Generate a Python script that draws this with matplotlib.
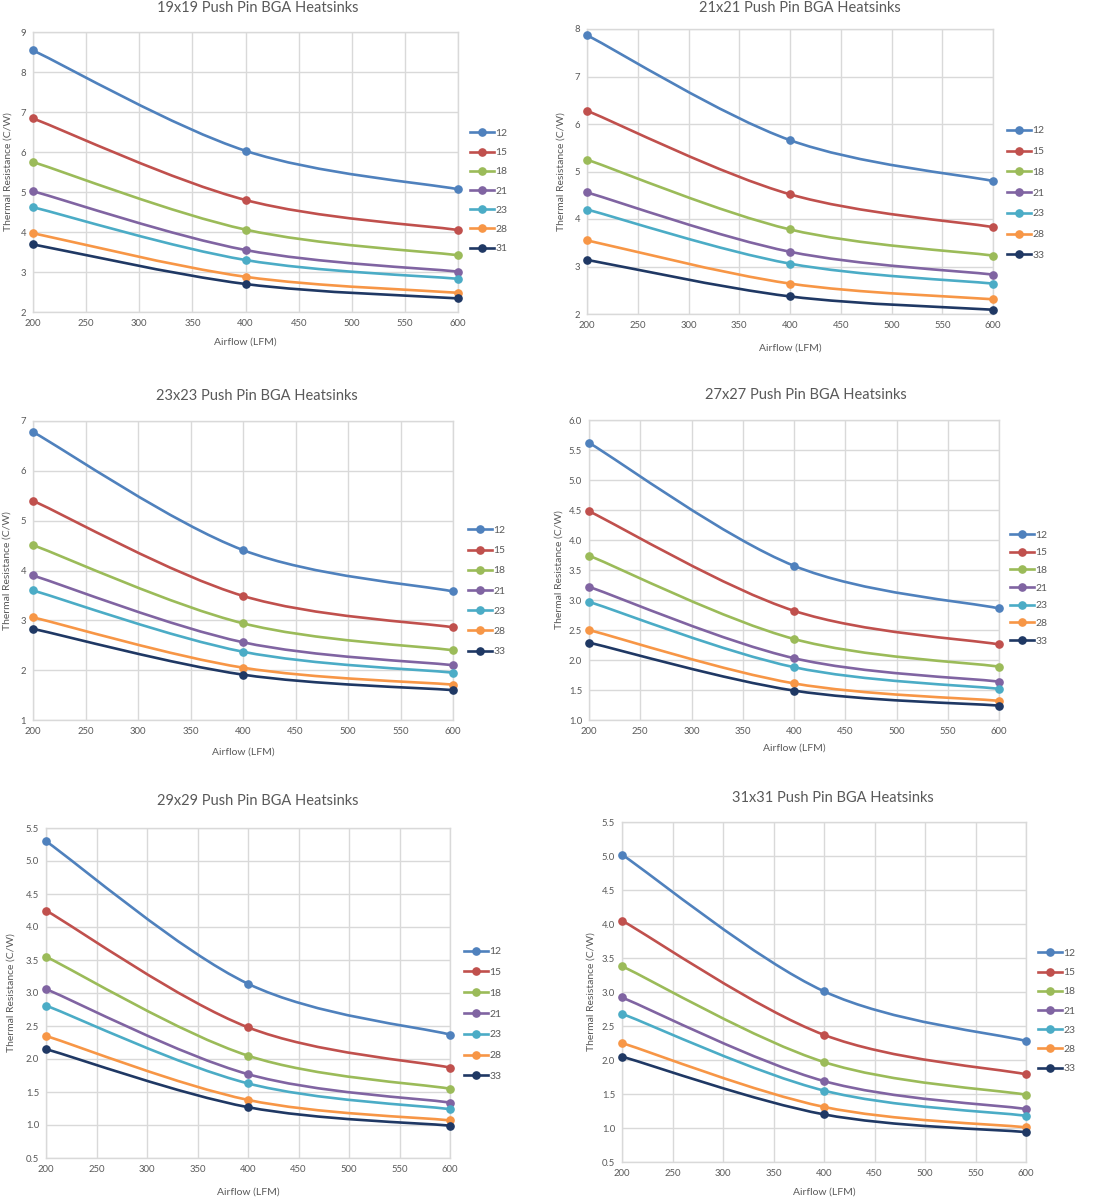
import numpy as np
import matplotlib
matplotlib.use("Agg")
import matplotlib.pyplot as plt
from matplotlib.path import Path
from matplotlib.patches import PathPatch
from matplotlib.lines import Line2D
from matplotlib.ticker import FormatStrFormatter

# ---------------- data ----------------
airflow = [200, 400, 600]
xticks = [200, 250, 300, 350, 400, 450, 500, 550, 600]

titles = ["19x19 Push Pin BGA Heatsinks", "21x21 Push Pin BGA Heatsinks",
          "23x23 Push Pin BGA Heatsinks", "27x27 Push Pin BGA Heatsinks",
          "29x29 Push Pin BGA Heatsinks", "31x31 Push Pin BGA Heatsinks"]

labels_19 = ["12", "15", "18", "21", "23", "28", "31"]
labels_other = ["12", "15", "18", "21", "23", "28", "33"]

vals_19x19 = [[8.54, 6.03, 5.07], [6.84, 4.80, 4.05], [5.75, 4.06, 3.42],
              [5.02, 3.55, 3.01], [4.62, 3.30, 2.83], [3.97, 2.88, 2.48],
              [3.69, 2.70, 2.34]]
vals_21x21 = [[7.87, 5.66, 4.80], [6.28, 4.52, 3.83], [5.25, 3.78, 3.23],
              [4.56, 3.31, 2.83], [4.20, 3.06, 2.64], [3.55, 2.64, 2.31],
              [3.14, 2.37, 2.09]]
vals_23x23 = [[6.78, 4.41, 3.58], [5.40, 3.49, 2.86], [4.51, 2.94, 2.40],
              [3.90, 2.56, 2.10], [3.60, 2.37, 1.95], [3.06, 2.05, 1.71],
              [2.83, 1.91, 1.60]]
vals_27x27 = [[5.62, 3.57, 2.86], [4.48, 2.82, 2.26], [3.74, 2.35, 1.89],
              [3.22, 2.03, 1.64], [2.97, 1.88, 1.52], [2.50, 1.61, 1.32],
              [2.29, 1.49, 1.24]]
vals_29x29 = [[5.30, 3.14, 2.37], [4.25, 2.48, 1.87], [3.55, 2.05, 1.55],
              [3.06, 1.77, 1.34], [2.81, 1.63, 1.24], [2.35, 1.38, 1.07],
              [2.15, 1.27, 0.99]]
vals_31x31 = [[5.02, 3.01, 2.28], [4.05, 2.37, 1.79], [3.38, 1.97, 1.49],
              [2.92, 1.69, 1.28], [2.68, 1.55, 1.18], [2.25, 1.31, 1.01],
              [2.05, 1.20, 0.94]]

colors = ["#4F81BD", "#C0504D", "#9BBB59", "#8064A2", "#4BACC6", "#F79646", "#1F3864"]

TXT = "#595959"
GRID = "#D9D9D9"
FONT = "Lato"

W, H = 1115, 1200
fig = plt.figure(figsize=(W / 100, H / 100), dpi=100)
fig.patch.set_facecolor("white")

# panel layout in pixels: left, right, top, bottom, ylim, ystep, fmt, title center, ylabel x, xlabel y, legend (x, y_center)
panels = [
    dict(l=33, r=458, t=32, b=312, ylim=(2, 9), step=1, fmt="%d", tx=258, ty=8, ylx=8, xly=342, lgx=470, lgy=191, lsp=0.95),
    dict(l=587, r=993, t=29, b=314, ylim=(2, 8), step=1, fmt="%d", tx=800, ty=8, ylx=561, xly=348, lgx=1007, lgy=193, lsp=1.1),
    dict(l=33, r=453, t=421, b=720, ylim=(1, 7), step=1, fmt="%d", tx=257, ty=396, ylx=7, xly=752, lgx=468, lgy=591, lsp=1.05),
    dict(l=589, r=999, t=420, b=720, ylim=(1, 6), step=0.5, fmt="%.1f", tx=806, ty=395, ylx=559, xly=748, lgx=1010, lgy=588, lsp=0.8),
    dict(l=46, r=450, t=828, b=1158, ylim=(0.5, 5.5), step=0.5, fmt="%.1f", tx=258, ty=801, ylx=11, xly=1192, lgx=464, lgy=1014, lsp=1.1),
    dict(l=622, r=1026, t=822, b=1162, ylim=(0.5, 5.5), step=0.5, fmt="%.1f", tx=833, ty=798, ylx=591, xly=1192, lgx=1038, lgy=1011, lsp=0.95),
]
all_vals = [vals_19x19, vals_21x21, vals_23x23, vals_27x27, vals_29x29, vals_31x31]
all_labels = [labels_19] + [labels_other] * 5


def smooth_patch(xs, ys, color):
    pts = np.column_stack([xs, ys]).astype(float)
    n = len(pts)
    verts = [pts[0]]
    codes = [Path.MOVETO]
    for i in range(n - 1):
        p0 = pts[i - 1] if i > 0 else pts[i]
        p1 = pts[i]
        p2 = pts[i + 1]
        p3 = pts[i + 2] if i + 2 < n else pts[i + 1]
        c1 = p1 + (p2 - p0) / 6.0
        c2 = p2 - (p3 - p1) / 6.0
        verts += [c1, c2, p2]
        codes += [Path.CURVE4] * 3
    return PathPatch(Path(verts, codes), facecolor="none", edgecolor=color,
                     lw=1.9, capstyle="round", joinstyle="round", zorder=3)


for p, vals, labs, title in zip(panels, all_vals, all_labels, titles):
    ax = fig.add_axes([p["l"] / W, 1 - p["b"] / H, (p["r"] - p["l"]) / W, (p["b"] - p["t"]) / H])
    ax.set_xlim(200, 600)
    ax.set_ylim(*p["ylim"])
    ax.set_xticks(xticks)
    ax.set_yticks(np.arange(p["ylim"][0], p["ylim"][1] + 1e-9, p["step"]))
    ax.yaxis.set_major_formatter(FormatStrFormatter(p["fmt"]))
    ax.grid(True, color=GRID, lw=1.0, zorder=0)
    ax.set_axisbelow(True)
    for s in ax.spines.values():
        s.set_color(GRID)
        s.set_linewidth(1.0)
    ax.tick_params(length=0, labelsize=6.8, labelcolor=TXT, pad=5)
    for lab in ax.get_xticklabels() + ax.get_yticklabels():
        lab.set_fontfamily(FONT)

    handles = []
    for v, lab, c in zip(vals, labs, colors):
        ax.add_patch(smooth_patch(airflow, v, c))
        ax.plot(airflow, v, linestyle="none", marker="o", markersize=5.2,
                color=c, zorder=4, clip_on=False)
        handles.append(Line2D([0], [0], color=c, lw=1.9, marker="o", markersize=5.2))

    fig.text(p["tx"] / W, 1 - p["ty"] / H, title, ha="center", va="center",
             fontsize=10.5, color=TXT, family=FONT)
    ax.set_xlabel("Airflow (LFM)", fontsize=7.5, color=TXT, family=FONT)
    ax.xaxis.set_label_coords((p["r"] + p["l"]) / 2 / W, 1 - p["xly"] / H, transform=fig.transFigure)
    ax.xaxis.label.set_va("center")
    ax.set_ylabel("Thermal Resistance (C/W)", fontsize=7.5, color=TXT, family=FONT)
    ax.yaxis.set_label_coords(p["ylx"] / W, 1 - (p["t"] + p["b"]) / 2 / H, transform=fig.transFigure)
    ax.yaxis.label.set_va("center")

    leg = fig.legend(handles=handles, labels=labs, loc="center left",
                     bbox_to_anchor=(p["lgx"] / W, 1 - p["lgy"] / H),
                     frameon=False, fontsize=7.5, handlelength=2.3,
                     handletextpad=0.15, borderpad=0, borderaxespad=0,
                     labelspacing=p["lsp"], numpoints=1)
    for t in leg.get_texts():
        t.set_color(TXT)
        t.set_fontfamily(FONT)

fig.savefig("out.png", dpi=100, facecolor="white")
